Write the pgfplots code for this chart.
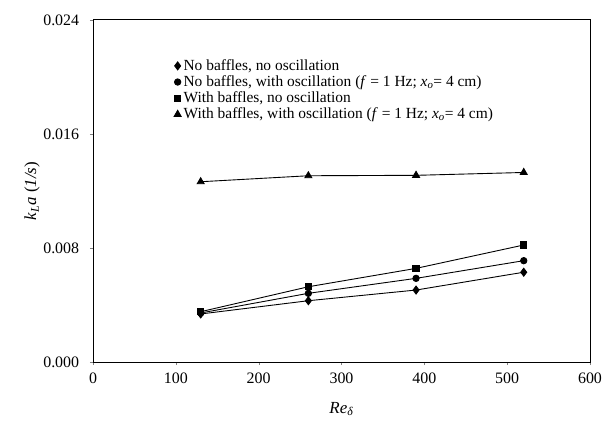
\documentclass[border=0pt]{standalone}
\usepackage{pgfplots}
\pgfplotsset{compat=1.18}
\usepackage{fontspec}
\setmainfont{Liberation Serif}
\begin{document}
\fontsize{14pt}{16pt}\selectfont
\begin{tikzpicture}[x=1bp,y=1bp]
\useasboundingbox (-93bp,-61bp) rectangle (510bp,362bp);
\begin{axis}[
  at={(0,0)}, anchor=south west,
  scale only axis,
  width=497bp, height=342bp,
  xmin=0, xmax=600, ymin=0, ymax=0.024,
  xtick={0,100,...,600},
  ytick={0,0.008,0.016,0.024},
  yticklabel style={xshift=-6bp, /pgf/number format/.cd,fixed,fixed zerofill,precision=3},
  /pgf/number format/assume math mode=true,
  tick align=outside,
  xtick pos=bottom, ytick pos=left,
  major tick length=3bp,
  tick label style={font=\fontsize{16pt}{18pt}\selectfont},
  xticklabel style={yshift=-3bp},
  scaled y ticks=false,
  axis line style={line width=1pt},
  xlabel={\textit{Re}\textsubscript{\textit{δ}}},
  ylabel={\textit{k\textsubscript{L}a} (\textit{1/s})},
  label style={font=\fontsize{17pt}{19pt}\selectfont},
  xlabel style={yshift=-9bp},
  ylabel style={yshift=-6bp},
  legend style={draw=none, fill=none, at={(0.163,0.89)}, anchor=north west,
    font=\fontsize{15.5pt}{15.5pt}\selectfont, row sep=0pt, inner sep=0pt,
    legend cell align=left,
    nodes={inner xsep=2.5pt, inner ysep=1.6pt}},
  legend image post style={only marks},
  legend image code/.code={\draw[#1] plot coordinates {(0.1cm,0cm)};},
  every axis plot/.append style={black, line width=0.9pt, mark options={fill=black, solid}},
]
\addplot[mark=diamond*, mark size=4pt] coordinates {(130,0.00337) (260,0.0043) (390,0.00505) (520,0.0063)};
\addlegendentry{No baffles, no oscillation}
\addplot[mark=*, mark size=3.2pt] coordinates {(130,0.00344) (260,0.00482) (390,0.00587) (520,0.00711)};
\addlegendentry{No baffles, with oscillation (\textit{f} = 1 Hz; \textit{x\textsubscript{o}}= 4 cm)}
\addplot[mark=square*, mark size=3.2pt] coordinates {(130,0.00353) (260,0.00528) (390,0.00657) (520,0.00821)};
\addlegendentry{With baffles, no oscillation}
\addplot[mark=triangle*, mark size=4pt] coordinates {(130,0.01265) (260,0.01307) (390,0.0131) (520,0.0133)};
\addlegendentry{With baffles, with oscillation (\textit{f} = 1 Hz; \textit{x\textsubscript{o}}= 4 cm)}
\end{axis}
\end{tikzpicture}
\end{document}
